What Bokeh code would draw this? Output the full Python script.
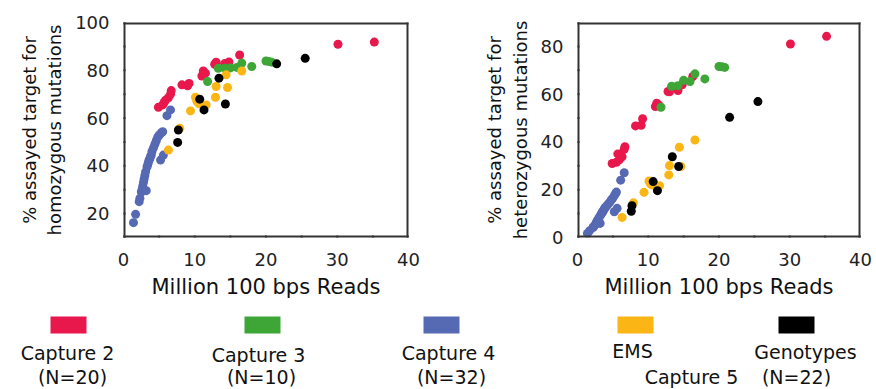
from bokeh.plotting import figure
from bokeh.models import Range1d, FixedTicker, ColumnDataSource, BoxAnnotation
from bokeh.layouts import row, column
from bokeh.embed import file_html
from bokeh.resources import INLINE
from bokeh.core.properties import value

# ---------------- data ----------------
# Capture 2 (N=20)
cap2_reads = [4.9, 5.5, 5.7, 5.9, 6.3, 6.6, 6.7, 8.2, 9.0, 9.2, 11.0, 11.2, 11.5, 12.8, 13.0, 14.2, 14.8, 16.3, 30.1, 35.2]
cap2_hom = [64.5, 65.5, 66.5, 67.5, 68.5, 70.0, 71.5, 73.9, 73.5, 74.5, 77.6, 79.7, 78.8, 82.5, 83.4, 82.8, 83.5, 86.4, 90.9, 91.8]
cap2_het = [31.0, 31.5, 35.0, 32.5, 33.8, 36.9, 38.0, 46.7, 47.0, 49.7, 54.8, 56.2, 55.5, 61.1, 61.0, 61.5, 63.9, 67.4, 81.0, 84.2]

# Capture 3 (N=10)
cap3_reads = [11.8, 13.3, 14.2, 15.0, 15.9, 16.6, 18.0, 20.0, 20.4, 20.8]
cap3_hom = [75.3, 80.8, 80.9, 81.0, 81.2, 83.0, 81.6, 83.9, 83.7, 83.4]
cap3_het = [54.5, 63.3, 63.5, 65.8, 65.3, 68.5, 66.4, 71.6, 71.5, 71.2]

# Capture 4 (N=32)
cap4_reads = [1.4, 1.7, 2.2, 2.3, 2.5, 2.6, 2.7, 2.8, 2.9, 3.0, 3.1, 3.2, 3.3, 3.4, 3.5, 3.6,
              3.7, 3.8, 3.9, 4.0, 4.2, 4.4, 4.6, 4.8, 5.0, 5.2, 5.4, 5.5, 5.2, 5.6, 6.1, 6.6]
cap4_hom = [16.2, 19.7, 25.0, 26.4, 29.0, 30.0, 31.5, 33.0, 34.5, 36.0, 37.5, 29.6, 39.5, 40.5, 41.5, 42.5,
            43.0, 44.0, 44.5, 46.0, 47.5, 49.0, 50.5, 52.0, 52.8, 53.5, 54.0, 54.3, 42.4, 44.5, 61.0, 63.4]
cap4_het = [1.7, 2.8, 4.2, 4.6, 5.3, 5.8, 6.5, 7.0, 7.5, 8.0, 8.6, 5.9, 9.5, 10.0, 10.5, 11.0,
            11.5, 12.0, 12.5, 12.8, 13.5, 14.2, 14.9, 15.8, 16.5, 17.5, 18.5, 19.0, 10.8, 12.2, 24.0, 27.1]

# Capture 5: EMS
ems_reads = [6.3, 7.9, 9.4, 10.1, 10.3, 10.6, 11.6, 12.9, 13.0, 14.4, 14.6, 16.6]
ems_hom = [46.6, 55.7, 63.0, 68.7, 67.0, 66.0, 65.5, 68.7, 73.2, 78.1, 72.8, 79.7]
ems_het = [8.4, 14.5, 18.9, 23.6, 22.5, 22.0, 21.7, 26.2, 30.1, 37.8, 29.7, 40.8]

# Capture 5: Genotypes
gen_reads = [7.6, 7.7, 10.7, 11.3, 13.4, 14.3, 21.5, 25.5]
gen_hom = [49.8, 55.0, 67.9, 63.4, 76.7, 65.9, 82.7, 85.0]
gen_het = [11.0, 13.3, 23.4, 19.6, 33.8, 29.7, 50.3, 56.9]

legend_names = ["Capture 2", "Capture 3", "Capture 4", "EMS", "Genotypes"]
legend_counts = ["(N=20)", "(N=10)", "(N=32)"]
capture5_label = "Capture 5"
capture5_count = "(N=22)"
colors = ["#e8174c", "#3da637", "#5669b3", "#fbb514", "#000000"]

x_ticks = [0, 10, 20, 30, 40]
x_minor = [5, 15, 25, 35]
hom_ticks = [20, 40, 60, 80, 100]
het_ticks = [0, 20, 40, 60, 80]

x_label = "Million 100 bps Reads"
hom_label = "% assayed target for\nhomozygous mutations"
het_label = "% assayed target for\nheterozygous mutations"

# drawing order: blue, red, green, orange, black
series = [
    (cap4_reads, cap4_hom, cap4_het, colors[2]),
    (cap2_reads, cap2_hom, cap2_het, colors[0]),
    (cap3_reads, cap3_hom, cap3_het, colors[1]),
    (ems_reads, ems_hom, ems_het, colors[3]),
    (gen_reads, gen_hom, gen_het, colors[4]),
]

FONT = "DejaVu Sans"
FRAME_COL = "#333333"
LW = 2.0          # px, frame / tick thickness
X_TICK = 7        # px
X_MINOR = 5       # px
Y_TICK = 6        # px
HEIGHT = 302
B_TOP, B_BOTTOM = 22, 65


def fbox(**kw):
    return BoxAnnotation(fill_color=FRAME_COL, fill_alpha=1.0, line_color=None, line_alpha=0,
                         level="overlay", **kw)


def make_panel(width, y_start, y_end, ylabel, yticks, border_left, border_right, which):
    p = figure(width=width, height=HEIGHT, x_range=Range1d(0, 40), y_range=Range1d(y_start, y_end),
               output_backend="svg", toolbar_location=None,
               min_border_left=border_left, min_border_right=border_right,
               min_border_top=B_TOP, min_border_bottom=B_BOTTOM)
    p.grid.visible = False
    p.outline_line_color = None
    p.background_fill_color = "white"
    p.border_fill_color = "white"

    for xs, hom, het, col in series:
        ys = hom if which == "hom" else het
        src = ColumnDataSource(dict(x=xs, y=ys))
        p.scatter("x", "y", source=src, size=9, fill_color=col, line_color=None)

    # pixel -> data conversion for the filled frame and tick marks
    fw = width - border_left - border_right
    fh = HEIGHT - B_TOP - B_BOTTOM
    dx = 40.0 / fw
    dy = (y_end - y_start) / fh
    tx = LW * dx
    ty = LW * dy

    # frame edges: filled quads just inside the frame (glyph fills render reliably)
    p.quad(left=[0, 40 - tx, 0, 0], right=[tx, 40, 40, 40],
           bottom=[y_start, y_start, y_start, y_end - ty], top=[y_end, y_end, y_start + ty, y_end],
           fill_color=FRAME_COL, line_color=None, level="overlay")

    # tick marks outside the frame (annotations are not clipped to the frame)
    for t in x_ticks:
        p.add_layout(fbox(left=t - tx / 2, right=t + tx / 2, bottom=y_start - X_TICK * dy, top=y_start + ty))
    for t in x_minor:
        p.add_layout(fbox(left=t - tx / 2, right=t + tx / 2, bottom=y_start - X_MINOR * dy, top=y_start + ty))
    for t in range(int(y_start), int(y_end) + 1, 10):
        p.add_layout(fbox(left=-Y_TICK * dx, right=tx, bottom=t - ty / 2, top=t + ty / 2))

    xa = p.below[0]
    xa.ticker = FixedTicker(ticks=x_ticks, minor_ticks=x_minor)
    ya = p.left[0]
    ya.ticker = FixedTicker(ticks=yticks, minor_ticks=list(range(int(y_start), int(y_end) + 1, 10)))
    for ax in (xa, ya):
        ax.axis_line_color = None
        ax.major_tick_line_color = None
        ax.minor_tick_line_color = None
        ax.major_tick_in = 0
        ax.minor_tick_in = 0
        ax.major_label_text_font = FONT
        ax.major_label_text_font_size = "18px"
        ax.major_label_text_color = "#222222"
        ax.axis_label_text_font = FONT
        ax.axis_label_text_font_style = "normal"
        ax.axis_label_text_color = "#111111"
    xa.major_tick_out = X_TICK
    xa.minor_tick_out = X_MINOR
    xa.major_label_standoff = 8
    xa.axis_label = x_label
    xa.axis_label_text_font_size = "21px"
    xa.axis_label_standoff = 6
    ya.major_tick_out = Y_TICK
    ya.minor_tick_out = Y_TICK
    ya.major_label_standoff = 8
    ya.axis_label = ylabel
    ya.axis_label_text_font_size = "18px"
    ya.axis_label_standoff = 7
    return p


p1 = make_panel(470, 10, 100, hom_label, hom_ticks, 123, 62, "hom")
p2 = make_panel(406, 0, 90, het_label, het_ticks, 107, 16, "het")

# ---------------- legend panel ----------------
leg = figure(width=876, height=87, x_range=Range1d(0, 876), y_range=Range1d(87, 0),
             output_backend="svg", toolbar_location=None,
             min_border_left=0, min_border_right=0, min_border_top=0, min_border_bottom=0,
             x_axis_location=None, y_axis_location=None)
leg.grid.visible = False
leg.outline_line_color = None
leg.border_fill_color = "white"

# layout positions of legend entries (screen layout, not data)
sw_x = [68, 262, 441, 635, 796]
sw_y = 22.5
name_x = [67, 258, 448, 632, 805]
name_y = [50, 52, 50, 48, 49]
count_x = [72, 261, 451]
count_y = 74

tstyle = dict(text_align="center", text_baseline="middle",
              text_font=value(FONT), text_font_size="19px", text_color="#111111")
leg.rect(x=sw_x, y=[sw_y] * 5, width=36, height=17, fill_color=colors, line_color=None)
leg.text(x=name_x, y=name_y, text=legend_names, **tstyle)
leg.text(x=count_x, y=[count_y] * 3, text=legend_counts, **tstyle)
leg.text(x=[691], y=[count_y], text=[capture5_label], **tstyle)
leg.text(x=[796], y=[count_y], text=[capture5_count], **tstyle)

layout = column(row(p1, p2, spacing=0), leg, spacing=0)

open("out.html", "w").write(file_html(layout, INLINE))
